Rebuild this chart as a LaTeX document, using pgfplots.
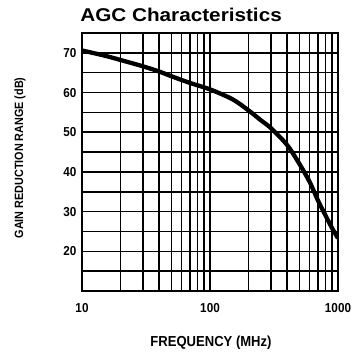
\documentclass[border=0pt]{standalone}
\usepackage{fontspec}
\setmainfont{Liberation Sans}
\newfontfamily\narrowfont[FakeStretch=0.9]{Liberation Sans}
\newfontfamily\widefont[FakeStretch=1.12]{Liberation Sans}
\usepackage{pgfplots}
\pgfplotsset{compat=1.18}
\begin{document}
\begin{tikzpicture}
\begin{axis}[
  scale only axis,
  width=256pt, height=258pt,
  xmode=log, xmin=10, xmax=1000,
  ymin=10, ymax=75,
  xtick={10,100,1000}, xticklabels={10,100,1000},
  ytick={20,30,40,50,60,70},
  minor ytick={15,25,35,45,55,65,75},
  grid=both,
  major grid style={black, line width=1.5pt},
  minor grid style={black, line width=1.5pt},
  axis line style={black, line width=2pt},
  major tick length=0pt, minor tick length=0pt,
  /pgf/number format/assume math mode=true,
  ticklabel style={font=\narrowfont\bfseries\fontsize{13}{13}\selectfont},
  xticklabel style={yshift=-9pt},
  yticklabel style={xshift=-2pt},
  clip=true,
]
\addplot[black, line width=4.3pt, smooth] coordinates {
 (10,70.6) (15,69.3) (20,68.2) (30,66.6) (40,65.3) (50,64.1) (70,62.4)
 (100,60.8) (150,58.3) (200,55.5) (250,53.0) (300,51.0) (400,46.8)
 (500,42.0) (600,37.5) (700,32.7) (800,29.0) (900,25.8) (1000,23.3)
};
\coordinate (SW) at (rel axis cs:0,0);
\coordinate (T) at (rel axis cs:0.387,1);
\coordinate (XL) at (rel axis cs:0.504,0);
\coordinate (YL) at (rel axis cs:0,0.516);
\end{axis}
\node[anchor=base, inner sep=0pt, font=\widefont\bfseries\fontsize{18.5}{18.5}\selectfont] at ([yshift=11.3pt]T) {AGC Characteristics};
\node[anchor=base, inner sep=0pt, font=\narrowfont\bfseries\fontsize{14.5}{14.5}\selectfont] at ([yshift=-56pt]XL) {FREQUENCY (MHz)};
\node[anchor=center, inner sep=0pt, rotate=90, font=\narrowfont\bfseries\fontsize{12}{12}\selectfont] at ([xshift=-62pt]YL) {GAIN\ REDUCTION\ RANGE\ (dB)};
\pgfresetboundingbox
\path ([shift={(-82pt,-67pt)}]SW) rectangle ++(351pt,358pt);
\end{tikzpicture}
\end{document}
